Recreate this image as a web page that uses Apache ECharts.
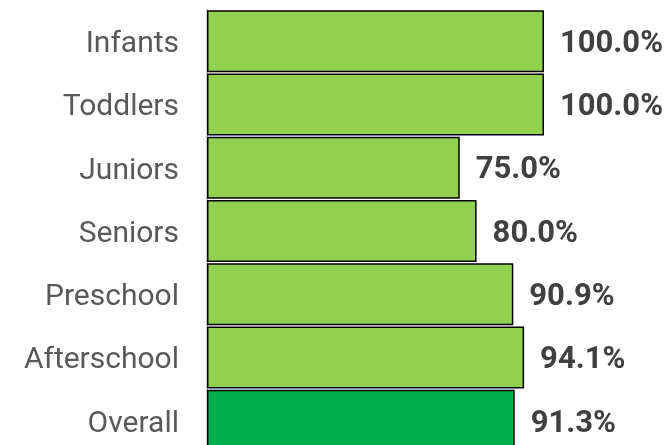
<!DOCTYPE html>
<html>
<head>
<meta charset="utf-8">
<script src="https://cdn.jsdelivr.net/npm/echarts@6/dist/echarts.min.js"></script>
<style>
  html, body { margin: 0; padding: 0; background: #fff; }
  #chart { width: 671px; height: 445px; }
</style>
</head>
<body>
<div id="chart"></div>
<script>
// categories top to bottom
const categories = ['Infants', 'Toddlers', 'Juniors', 'Seniors', 'Preschool', 'Afterschool', 'Overall']
// percent values
const values = [100.0, 100.0, 75.0, 80.0, 90.9, 94.1, 91.3]
const barColors = ['#92D050', '#92D050', '#92D050', '#92D050', '#92D050', '#92D050', '#00B050']

const chart = echarts.init(document.getElementById('chart'))

const seriesData = values.map((v, i) => ({
  value: v,
  itemStyle: { color: barColors[i] }
}))

chart.setOption({
  animation: false,
  grid: {
    left: 207,
    right: 127,
    top: 9.5,
    bottom: -7.4,
    outerBoundsMode: 'none'
  },
  xAxis: {
    type: 'value',
    min: 0,
    max: 100,
    show: false
  },
  yAxis: {
    type: 'category',
    data: categories,
    inverse: true,
    axisLine: { show: true, lineStyle: { color: '#BFBFBF', width: 1.5 } },
    axisTick: { show: false },
    axisLabel: {
      margin: 28,
      formatter: v => '{a|' + v + '}',
      rich: {
        a: {
          color: '#595959',
          fontFamily: 'Roboto',
          fontSize: 30,
          padding: [7, 0, 0, 0]
        }
      }
    }
  },
  series: [{
    type: 'bar',
    data: seriesData,
    barCategoryGap: '2%',
    itemStyle: { borderColor: '#000', borderWidth: 1.5 },
    label: {
      show: true,
      position: 'right',
      distance: 16,
      offset: [0, 3],
      color: '#404040',
      fontFamily: 'Roboto',
      fontWeight: 'bold',
      fontSize: 31,
      formatter: p => p.value.toFixed(1) + '%'
    }
  }]
})
</script>
</body>
</html>
